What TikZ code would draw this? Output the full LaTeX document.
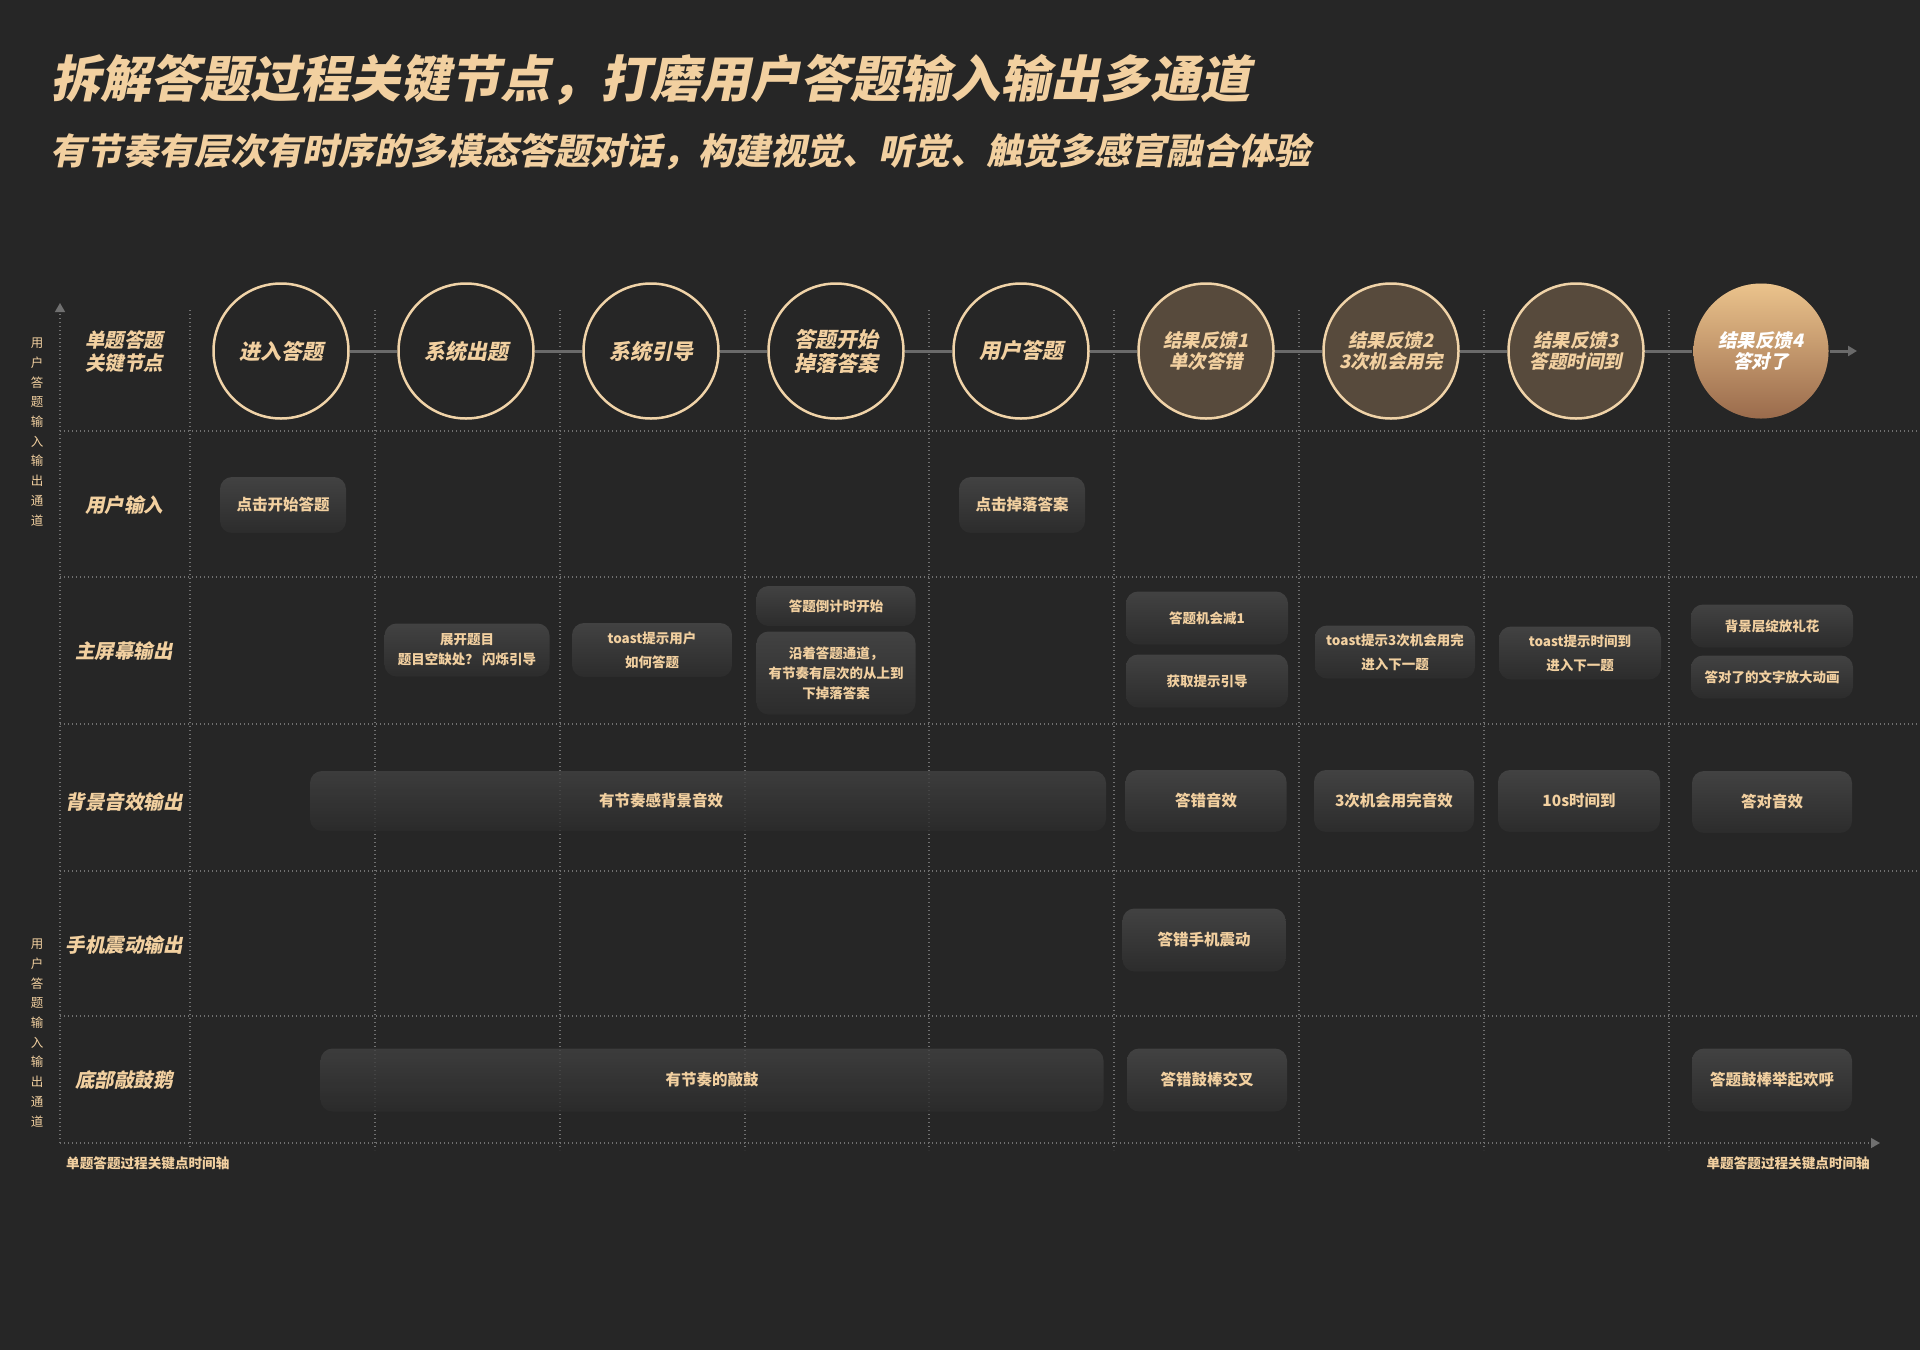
\documentclass[tikz,border=0pt]{standalone}
\usepackage{fontspec}
\setmainfont{Noto Sans CJK SC}
\newfontfamily\cjkslant{Noto Sans CJK SC}[FakeSlant=0.2]
\usepackage{tikz}
\usetikzlibrary{positioning, arrows.meta}

\definecolor{bgdark}{HTML}{262626}
\definecolor{peach}{HTML}{F2D0A0}
\definecolor{ringgold}{HTML}{F0D3A8}
\definecolor{brownfill}{HTML}{574A3C}
\definecolor{gridgray}{HTML}{707070}
\definecolor{linkgray}{HTML}{6A6A6A}
\definecolor{boxtop}{HTML}{424242}
\definecolor{boxbottom}{HTML}{2C2C2C}
\definecolor{goldtop}{HTML}{EBC38C}
\definecolor{goldbottom}{HTML}{9A6B4C}

\tikzset{
    x=1pt, y=-1pt, % one unit is one pixel, y grows downwards
    >={Triangle[length=9pt, width=10pt]}, % filled arrow heads
    node distance=185pt, % distance between two key nodes
    keynode/.style={circle, draw=ringgold, fill=bgdark, line width=2.5pt, minimum size=135pt, inner sep=0pt, text=peach, align=center, font=\cjkslant\bfseries\fontsize{21}{24}\selectfont}, % plain key node
    failnode/.style={keynode, fill=brownfill, font=\cjkslant\bfseries\fontsize{18.5}{21}\selectfont}, % feedback nodes
    winnode/.style={failnode, draw=none, top color=goldtop, bottom color=goldbottom, text=white}, % last feedback
    cardtext/.style={text=peach, font=\bfseries\fontsize{15.5}{24}\selectfont},
    card/.style={cardtext, rounded corners=12pt, top color=boxtop, bottom color=boxbottom, align=center, inner sep=0pt},
    widecard/.style={card, fill opacity=0.8, text opacity=1}, % the grid shows through
    screencard/.style={card, font=\bfseries\fontsize{13.5}{20}\selectfont},
    rowlabel/.style={text=peach, align=center, font=\cjkslant\bfseries\fontsize{19.5}{23}\selectfont},
    gridline/.style={gridgray, line width=1.3pt, dash pattern=on 1.3pt off 2.7pt},
    sidetext/.style={text=peach, align=center, inner sep=0pt, font=\fontsize{12.5}{19.7}\selectfont},
    axistext/.style={text=peach, inner sep=0pt, font=\bfseries\fontsize{13.6}{16}\selectfont},
}

\begin{document}
\begin{tikzpicture}
    \useasboundingbox (0,0) rectangle (1920,1350);
    \fill[bgdark] (0,0) rectangle (1920,1350);

    % titles
    \node[anchor=west, inner sep=0pt, text=peach, font=\cjkslant\bfseries\fontsize{50}{60}\selectfont] (title) at (50,80) {拆解答题过程关键节点，打磨用户答题输入输出多通道};
    \node[anchor=west, inner sep=0pt, text=peach, font=\cjkslant\bfseries\fontsize{36}{44}\selectfont] (subtitle) at (50,152) {有节奏有层次有时序的多模态答题对话，构建视觉、听觉、触觉多感官融合体验};

    % grid
    \foreach \gx in {190,375,560,745,929,1114,1299,1484,1669}
        \draw[gridline] (\gx,310) -- (\gx,1150);
    \foreach \gy in {431,577,724,871,1016}
        \draw[gridline] (60,\gy) -- (1920,\gy);

    % axes
    \coordinate (origin) at (60,1143);
    \coordinate (ytip) at (60,303);
    \coordinate (xtip) at (1880,1143);
    \draw[gridline, ->] (origin) -- (ytip);
    \draw[gridline, ->] (origin) -- (xtip);
    \node[sidetext] (sideup) at (37,432) {用\\户\\答\\题\\输\\入\\输\\出\\通\\道};
    \node[sidetext] (sidedown) at (37,1033) {用\\户\\答\\题\\输\\入\\输\\出\\通\\道};
    \node[axistext, anchor=west] (timeleft) at (66,1163) {单题答题过程关键点时间轴};
    \node[axistext, anchor=east] (timeright) at (1870,1163) {单题答题过程关键点时间轴};

    % row labels
    \node[rowlabel] (rowkey) at (124,352) {单题答题\\关键节点};
    \node[rowlabel] (rowinput) at (124,505) {用户输入};
    \node[rowlabel] (rowscreen) at (124,651) {主屏幕输出};
    \node[rowlabel] (rowsound) at (124,802) {背景音效输出};
    \node[rowlabel] (rowbuzz) at (124,945) {手机震动输出};
    \node[rowlabel] (rowgoose) at (124,1080) {底部敲鼓鹅};

    % key nodes
    \node[keynode] (k1) at (281,351) {进入答题};
    \node[keynode, right of=k1] (k2) {系统出题};
    \node[keynode, right of=k2] (k3) {系统引导};
    \node[keynode, right of=k3] (k4) {答题开始\\掉落答案};
    \node[keynode, right of=k4] (k5) {用户答题};
    \node[failnode, right of=k5] (k6) {结果反馈1\\单次答错};
    \node[failnode, right of=k6] (k7) {结果反馈2\\3次机会用完};
    \node[failnode, right of=k7] (k8) {结果反馈3\\答题时间到};
    \node[winnode, right of=k8] (k9) {结果反馈4\\答对了};
    \coordinate (kend) at (1857,351);
    \draw[linkgray, line width=3pt] (k1) -- (k2) -- (k3) -- (k4) -- (k5) -- (k6) -- (k7) -- (k8) -- (k9);
    \draw[linkgray, line width=3pt, ->] (k9) -- (kend);

    % user input
    \node[card, minimum width=126pt, minimum height=56pt] (tapstart) at (283,505) {点击开始答题};
    \node[card, minimum width=126pt, minimum height=56pt] (tapdrop) at (1022,505) {点击掉落答案};

    % main screen
    \node[screencard, minimum width=165pt, minimum height=53pt] (unfold) at (467,650) {展开题目\\题目空缺处？ 闪烁引导};
    \node[screencard, minimum width=160pt, minimum height=54pt] (guide) at (652,650) {toast提示用户\\[4pt]如何答题};
    \node[screencard, minimum width=159pt, minimum height=40pt] (countdown) at (836,606) {答题倒计时开始};
    \node[screencard, minimum width=159pt, minimum height=83pt] (dropping) at (836,673) {沿着答题通道，\\有节奏有层次的从上到\\下掉落答案};
    \node[screencard, minimum width=162pt, minimum height=53pt] (chanceminus) at (1207,618) {答题机会减1};
    \node[screencard, minimum width=162pt, minimum height=53pt] (hint) at (1207,681) {获取提示引导};
    \node[screencard, minimum width=160pt, minimum height=53pt] (toastchance) at (1395,652) {toast提示3次机会用完\\[4pt]进入下一题};
    \node[screencard, minimum width=162pt, minimum height=53pt] (toasttime) at (1580,653) {toast提示时间到\\[4pt]进入下一题};
    \node[screencard, minimum width=162pt, minimum height=43pt] (fireworks) at (1772,626) {背景层绽放礼花};
    \node[screencard, minimum width=162pt, minimum height=43pt] (bigtext) at (1772,677) {答对了的文字放大动画};

    % background sound
    \node[widecard, minimum width=796pt, minimum height=60pt, label={[cardtext, xshift=-47pt]center:有节奏感背景音效}] (bgm) at (708,801) {};
    \node[card, minimum width=161pt, minimum height=62pt] (wrongsound) at (1206,801) {答错音效};
    \node[card, minimum width=160pt, minimum height=62pt] (usedupsound) at (1394,801) {3次机会用完音效};
    \node[card, minimum width=162pt, minimum height=62pt] (timeupsound) at (1579,801) {10s时间到};
    \node[card, minimum width=160pt, minimum height=62pt] (rightsound) at (1772,802) {答对音效};

    % phone vibration
    \node[card, minimum width=163pt, minimum height=63pt] (wrongbuzz) at (1204,940) {答错手机震动};

    % drum goose
    \node[widecard, minimum width=783pt, minimum height=63pt] (drumbeat) at (712,1080) {有节奏的敲鼓};
    \node[card, minimum width=160pt, minimum height=63pt] (crossdrum) at (1207,1080) {答错鼓棒交叉};
    \node[card, minimum width=160pt, minimum height=63pt] (cheerdrum) at (1772,1080) {答题鼓棒举起欢呼};
\end{tikzpicture}
\end{document}
